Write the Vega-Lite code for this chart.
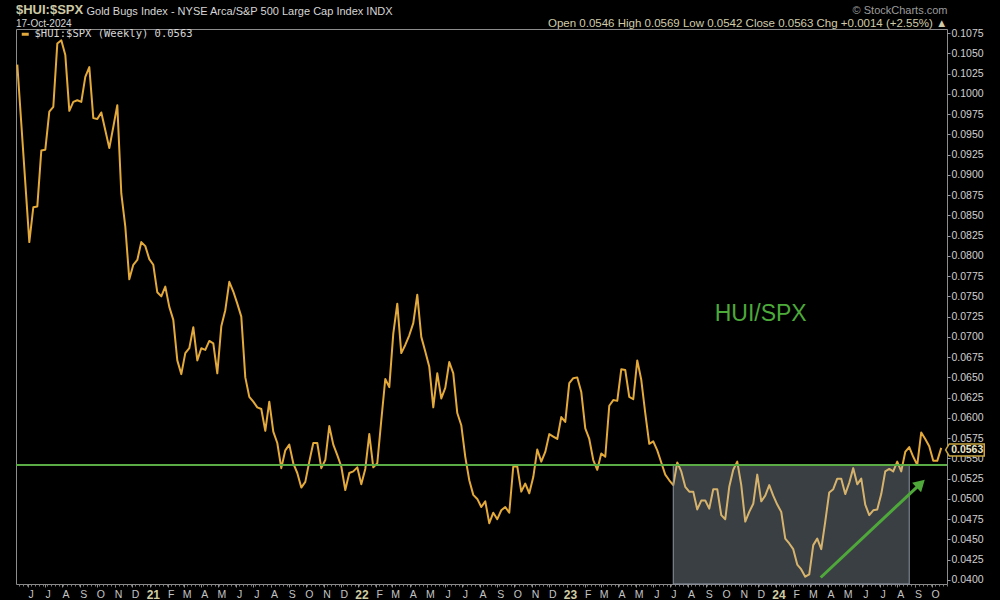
{
  "$schema": "https://vega.github.io/schema/vega-lite/v6.json",
  "width": 931,
  "height": 555,
  "autosize": "none",
  "padding": {"left": 16, "top": 29, "right": 53, "bottom": 16},
  "background": "#000000",
  "config": {
    "font": "Liberation Sans",
    "view": {"stroke": "#8c8c8c", "strokeWidth": 1},
    "axis": {"grid": false}
  },
  "title": {
    "text": "$HUI:$SPX",
    "subtitle": "17-Oct-2024",
    "anchor": "start",
    "frame": "group",
    "offset": 1,
    "dy": 26,
    "font": "Liberation Sans",
    "fontSize": 13,
    "fontWeight": "bold",
    "color": "#cdc9a5",
    "subtitleFont": "Liberation Sans",
    "subtitleFontSize": 10,
    "subtitleColor": "#d6d6d6",
    "subtitlePadding": 2
  },
  "datasets": {
    "ratio": [
      {"d": "2020-05-14", "v": 0.1036}, {"d": "2020-05-21", "v": 0.0963}, {"d": "2020-05-28", "v": 0.0890},
      {"d": "2020-06-04", "v": 0.0817}, {"d": "2020-06-11", "v": 0.0860}, {"d": "2020-06-18", "v": 0.0861},
      {"d": "2020-06-25", "v": 0.0930}, {"d": "2020-07-02", "v": 0.0931}, {"d": "2020-07-09", "v": 0.0978},
      {"d": "2020-07-16", "v": 0.0984}, {"d": "2020-07-23", "v": 0.1062}, {"d": "2020-07-30", "v": 0.1066},
      {"d": "2020-08-06", "v": 0.1048}, {"d": "2020-08-13", "v": 0.0979}, {"d": "2020-08-20", "v": 0.0990},
      {"d": "2020-08-27", "v": 0.0992}, {"d": "2020-09-03", "v": 0.0990}, {"d": "2020-09-10", "v": 0.1021},
      {"d": "2020-09-17", "v": 0.1033}, {"d": "2020-09-24", "v": 0.0970}, {"d": "2020-10-01", "v": 0.0969},
      {"d": "2020-10-08", "v": 0.0977}, {"d": "2020-10-15", "v": 0.0955}, {"d": "2020-10-22", "v": 0.0933},
      {"d": "2020-10-29", "v": 0.0959}, {"d": "2020-11-05", "v": 0.0986}, {"d": "2020-11-12", "v": 0.0877},
      {"d": "2020-11-19", "v": 0.0836}, {"d": "2020-11-26", "v": 0.0771}, {"d": "2020-12-03", "v": 0.0789},
      {"d": "2020-12-10", "v": 0.0795}, {"d": "2020-12-17", "v": 0.0817}, {"d": "2020-12-24", "v": 0.0812},
      {"d": "2020-12-31", "v": 0.0796}, {"d": "2021-01-07", "v": 0.0789}, {"d": "2021-01-14", "v": 0.0755},
      {"d": "2021-01-21", "v": 0.0750}, {"d": "2021-01-28", "v": 0.0762}, {"d": "2021-02-04", "v": 0.0737},
      {"d": "2021-02-11", "v": 0.0721}, {"d": "2021-02-18", "v": 0.0671}, {"d": "2021-02-25", "v": 0.0654},
      {"d": "2021-03-04", "v": 0.0680}, {"d": "2021-03-11", "v": 0.0686}, {"d": "2021-03-18", "v": 0.0712},
      {"d": "2021-03-25", "v": 0.0671}, {"d": "2021-04-01", "v": 0.0686}, {"d": "2021-04-08", "v": 0.0684},
      {"d": "2021-04-15", "v": 0.0695}, {"d": "2021-04-22", "v": 0.0692}, {"d": "2021-04-29", "v": 0.0655},
      {"d": "2021-05-06", "v": 0.0713}, {"d": "2021-05-13", "v": 0.0733}, {"d": "2021-05-20", "v": 0.0768},
      {"d": "2021-05-27", "v": 0.0756}, {"d": "2021-06-03", "v": 0.0741}, {"d": "2021-06-10", "v": 0.0725},
      {"d": "2021-06-17", "v": 0.0650}, {"d": "2021-06-24", "v": 0.0626}, {"d": "2021-07-01", "v": 0.0620},
      {"d": "2021-07-08", "v": 0.0613}, {"d": "2021-07-15", "v": 0.0611}, {"d": "2021-07-22", "v": 0.0584},
      {"d": "2021-07-29", "v": 0.0620}, {"d": "2021-08-05", "v": 0.0583}, {"d": "2021-08-12", "v": 0.0569},
      {"d": "2021-08-19", "v": 0.0538}, {"d": "2021-08-26", "v": 0.0560}, {"d": "2021-09-02", "v": 0.0567},
      {"d": "2021-09-09", "v": 0.0544}, {"d": "2021-09-16", "v": 0.0532}, {"d": "2021-09-23", "v": 0.0514},
      {"d": "2021-09-30", "v": 0.0521}, {"d": "2021-10-07", "v": 0.0546}, {"d": "2021-10-14", "v": 0.0569},
      {"d": "2021-10-21", "v": 0.0569}, {"d": "2021-10-28", "v": 0.0538}, {"d": "2021-11-04", "v": 0.0548},
      {"d": "2021-11-11", "v": 0.0590}, {"d": "2021-11-18", "v": 0.0567}, {"d": "2021-11-25", "v": 0.0554},
      {"d": "2021-12-02", "v": 0.0540}, {"d": "2021-12-09", "v": 0.0511}, {"d": "2021-12-16", "v": 0.0532},
      {"d": "2021-12-23", "v": 0.0534}, {"d": "2021-12-30", "v": 0.0539}, {"d": "2022-01-06", "v": 0.0518},
      {"d": "2022-01-13", "v": 0.0537}, {"d": "2022-01-20", "v": 0.0580}, {"d": "2022-01-27", "v": 0.0539},
      {"d": "2022-02-03", "v": 0.0544}, {"d": "2022-02-10", "v": 0.0597}, {"d": "2022-02-17", "v": 0.0648},
      {"d": "2022-02-24", "v": 0.0638}, {"d": "2022-03-03", "v": 0.0704}, {"d": "2022-03-10", "v": 0.0741},
      {"d": "2022-03-17", "v": 0.0680}, {"d": "2022-03-24", "v": 0.0690}, {"d": "2022-03-31", "v": 0.0702},
      {"d": "2022-04-07", "v": 0.0717}, {"d": "2022-04-14", "v": 0.0752}, {"d": "2022-04-21", "v": 0.0700},
      {"d": "2022-04-28", "v": 0.0682}, {"d": "2022-05-05", "v": 0.0663}, {"d": "2022-05-12", "v": 0.0613},
      {"d": "2022-05-19", "v": 0.0655}, {"d": "2022-05-26", "v": 0.0624}, {"d": "2022-06-02", "v": 0.0637},
      {"d": "2022-06-09", "v": 0.0669}, {"d": "2022-06-16", "v": 0.0655}, {"d": "2022-06-23", "v": 0.0606},
      {"d": "2022-06-30", "v": 0.0591}, {"d": "2022-07-07", "v": 0.0552}, {"d": "2022-07-14", "v": 0.0523},
      {"d": "2022-07-21", "v": 0.0505}, {"d": "2022-07-28", "v": 0.0500}, {"d": "2022-08-04", "v": 0.0490},
      {"d": "2022-08-11", "v": 0.0497}, {"d": "2022-08-18", "v": 0.0470}, {"d": "2022-08-25", "v": 0.0483},
      {"d": "2022-09-01", "v": 0.0475}, {"d": "2022-09-08", "v": 0.0486}, {"d": "2022-09-15", "v": 0.0490},
      {"d": "2022-09-22", "v": 0.0483}, {"d": "2022-09-29", "v": 0.0540}, {"d": "2022-10-06", "v": 0.0540},
      {"d": "2022-10-13", "v": 0.0509}, {"d": "2022-10-20", "v": 0.0519}, {"d": "2022-10-27", "v": 0.0507},
      {"d": "2022-11-03", "v": 0.0527}, {"d": "2022-11-10", "v": 0.0561}, {"d": "2022-11-17", "v": 0.0546},
      {"d": "2022-11-24", "v": 0.0558}, {"d": "2022-12-01", "v": 0.0580}, {"d": "2022-12-08", "v": 0.0577},
      {"d": "2022-12-15", "v": 0.0574}, {"d": "2022-12-22", "v": 0.0601}, {"d": "2022-12-29", "v": 0.0595},
      {"d": "2023-01-05", "v": 0.0643}, {"d": "2023-01-12", "v": 0.0649}, {"d": "2023-01-19", "v": 0.0650},
      {"d": "2023-01-26", "v": 0.0632}, {"d": "2023-02-02", "v": 0.0587}, {"d": "2023-02-09", "v": 0.0574},
      {"d": "2023-02-16", "v": 0.0548}, {"d": "2023-02-23", "v": 0.0536}, {"d": "2023-03-02", "v": 0.0556},
      {"d": "2023-03-09", "v": 0.0552}, {"d": "2023-03-16", "v": 0.0615}, {"d": "2023-03-23", "v": 0.0622},
      {"d": "2023-03-30", "v": 0.0621}, {"d": "2023-04-06", "v": 0.0660}, {"d": "2023-04-13", "v": 0.0659},
      {"d": "2023-04-20", "v": 0.0626}, {"d": "2023-04-27", "v": 0.0623}, {"d": "2023-05-04", "v": 0.0671},
      {"d": "2023-05-11", "v": 0.0647}, {"d": "2023-05-18", "v": 0.0606}, {"d": "2023-05-25", "v": 0.0568},
      {"d": "2023-06-01", "v": 0.0571}, {"d": "2023-06-08", "v": 0.0560}, {"d": "2023-06-15", "v": 0.0545},
      {"d": "2023-06-22", "v": 0.0530}, {"d": "2023-06-29", "v": 0.0523}, {"d": "2023-07-06", "v": 0.0517},
      {"d": "2023-07-13", "v": 0.0545}, {"d": "2023-07-20", "v": 0.0534}, {"d": "2023-07-27", "v": 0.0515},
      {"d": "2023-08-03", "v": 0.0509}, {"d": "2023-08-10", "v": 0.0509}, {"d": "2023-08-17", "v": 0.0487},
      {"d": "2023-08-24", "v": 0.0498}, {"d": "2023-08-31", "v": 0.0498}, {"d": "2023-09-07", "v": 0.0488},
      {"d": "2023-09-14", "v": 0.0512}, {"d": "2023-09-21", "v": 0.0512}, {"d": "2023-09-28", "v": 0.0480},
      {"d": "2023-10-05", "v": 0.0475}, {"d": "2023-10-12", "v": 0.0515}, {"d": "2023-10-19", "v": 0.0536},
      {"d": "2023-10-26", "v": 0.0546}, {"d": "2023-11-02", "v": 0.0517}, {"d": "2023-11-09", "v": 0.0472},
      {"d": "2023-11-16", "v": 0.0484}, {"d": "2023-11-23", "v": 0.0494}, {"d": "2023-11-30", "v": 0.0530},
      {"d": "2023-12-07", "v": 0.0497}, {"d": "2023-12-14", "v": 0.0504}, {"d": "2023-12-21", "v": 0.0517},
      {"d": "2023-12-28", "v": 0.0504}, {"d": "2024-01-04", "v": 0.0493}, {"d": "2024-01-11", "v": 0.0484},
      {"d": "2024-01-18", "v": 0.0451}, {"d": "2024-01-25", "v": 0.0445}, {"d": "2024-02-01", "v": 0.0438},
      {"d": "2024-02-08", "v": 0.0419}, {"d": "2024-02-15", "v": 0.0413}, {"d": "2024-02-22", "v": 0.0404},
      {"d": "2024-02-29", "v": 0.0407}, {"d": "2024-03-07", "v": 0.0443}, {"d": "2024-03-14", "v": 0.0451},
      {"d": "2024-03-21", "v": 0.0438}, {"d": "2024-03-28", "v": 0.0472}, {"d": "2024-04-04", "v": 0.0508},
      {"d": "2024-04-11", "v": 0.0512}, {"d": "2024-04-18", "v": 0.0525}, {"d": "2024-04-25", "v": 0.0525},
      {"d": "2024-05-02", "v": 0.0506}, {"d": "2024-05-09", "v": 0.0520}, {"d": "2024-05-16", "v": 0.0538},
      {"d": "2024-05-23", "v": 0.0518}, {"d": "2024-05-30", "v": 0.0525}, {"d": "2024-06-06", "v": 0.0493},
      {"d": "2024-06-13", "v": 0.0480}, {"d": "2024-06-20", "v": 0.0486}, {"d": "2024-06-27", "v": 0.0487},
      {"d": "2024-07-04", "v": 0.0506}, {"d": "2024-07-11", "v": 0.0534}, {"d": "2024-07-18", "v": 0.0537},
      {"d": "2024-07-25", "v": 0.0534}, {"d": "2024-08-01", "v": 0.0546}, {"d": "2024-08-08", "v": 0.0534},
      {"d": "2024-08-15", "v": 0.0558}, {"d": "2024-08-22", "v": 0.0564}, {"d": "2024-08-29", "v": 0.0552},
      {"d": "2024-09-05", "v": 0.0542}, {"d": "2024-09-12", "v": 0.0582}, {"d": "2024-09-19", "v": 0.0574},
      {"d": "2024-09-26", "v": 0.0565}, {"d": "2024-10-03", "v": 0.0547}, {"d": "2024-10-10", "v": 0.0547},
      {"d": "2024-10-17", "v": 0.0563}
    ],
    "zone": [{"d": "2023-07-06", "d2": "2024-08-22", "v": 0.0542, "v2": 0.0395}],
    "level": [{"v": 0.0542}],
    "arrow": [{"d": "2024-03-20", "v": 0.0403}, {"d": "2024-09-11", "v": 0.0519}],
    "head": [{"d": "2024-09-11", "v": 0.0519}],
    "note": [{"d": "2023-12-06", "v": 0.0720, "t": "HUI/SPX"}],
    "last": [{"d": "2024-10-17", "v": 0.0563, "t": "0.0563"}]
  },
  "resolve": {"axis": {"x": "independent", "y": "independent"}},
  "layer": [
    {
      "data": {"name": "ratio"},
      "mark": {"type": "line", "strokeWidth": 2, "strokeJoin": "round"},
      "encoding": {
        "x": {
          "field": "d", "type": "temporal",
          "scale": {"type": "utc", "domain": [{"year": 2020, "month": 5, "date": 11, "hours": 17, "utc": true}, {"year": 2024, "month": 10, "date": 27, "hours": 2, "utc": true}]},
          "axis": {
            "orient": "bottom", "domain": false, "ticks": true, "tickSize": 3, "tickColor": "#8c8c8c",
            "tickCount": {"interval": "month", "step": 1},
            "labelExpr": "utcmonth(datum.value) == 0 ? utcFormat(datum.value, '%y') : substring(utcFormat(datum.value, '%b'), 0, 1)",
            "labelFontWeight": {"condition": {"test": "utcmonth(datum.value) == 0", "value": "bold"}, "value": "normal"},
            "labelColor": {"condition": {"test": "utcmonth(datum.value) == 0", "value": "#cfcba3"}, "value": "#c4c4c4"},
            "labelFontSize": {"condition": {"test": "utcmonth(datum.value) == 0", "value": 12}, "value": 10.5},
            "labelPadding": 2, "labelOverlap": false, "labelFlush": false, "labelBound": false, "labelOffset": 3,
            "title": "Gold Bugs Index - NYSE Arca/S&P 500 Large Cap Index  INDX",
            "titleX": 70, "titleY": -570, "titleAlign": "left", "titleBaseline": "alphabetic",
            "titleFontSize": 11, "titleFontWeight": "normal", "titleColor": "#d6d6d6", "titleFont": "Liberation Sans"
          }
        },
        "y": {
          "field": "v", "type": "quantitative",
          "scale": {"domain": [0.0395, 0.108], "zero": false, "nice": false},
          "axis": {
            "orient": "right", "domain": false, "zindex": 0,
            "values": [0.04, 0.0425, 0.045, 0.0475, 0.05, 0.0525, 0.055, 0.0575, 0.06, 0.0625, 0.065, 0.0675, 0.07, 0.0725, 0.075, 0.0775, 0.08, 0.0825, 0.085, 0.0875, 0.09, 0.0925, 0.095, 0.0975, 0.1, 0.1025, 0.105, 0.1075],
            "format": ".4f", "tickSize": 3, "tickColor": "#9a9a9a", "labelPadding": 1,
            "labelFontSize": 10.5, "labelColor": "#d0d0d0", "labelFont": "Liberation Sans",
            "labelOverlap": false, "labelFlush": false, "labelBound": false,
            "title": "Open 0.0546  High 0.0569  Low 0.0542  Close 0.0563  Chg +0.0014 (+2.55%) ▲",
            "titleAngle": 0, "titleX": 0, "titleY": -3, "titleAlign": "right", "titleBaseline": "alphabetic",
            "titleFontSize": 11.5, "titleFontWeight": "normal", "titleColor": "#d0ccaa", "titleFont": "Liberation Sans"
          }
        },
        "color": {
          "datum": "$HUI:$SPX (Weekly) 0.0563", "type": "nominal",
          "scale": {"range": ["#e3a93b"]},
          "legend": {
            "orient": "none", "legendX": 4, "legendY": 0, "title": null, "padding": 0,
            "symbolType": "stroke", "symbolStrokeWidth": 3, "symbolSize": 49,
            "labelFont": "DejaVu Sans Mono", "labelFontSize": 10.5, "labelColor": "#d6d6d6", "labelOffset": 4
          }
        }
      }
    },
    {
      "data": {"name": "zone"},
      "mark": {"type": "rect", "fill": "#bccbdc", "fillOpacity": 0.31, "stroke": "#8d96a2", "strokeWidth": 1},
      "encoding": {
        "x": {
          "field": "d", "type": "temporal",
          "scale": {"type": "utc", "domain": [{"year": 2020, "month": 5, "date": 11, "hours": 17, "utc": true}, {"year": 2024, "month": 10, "date": 27, "hours": 2, "utc": true}]},
          "axis": {"orient": "bottom", "labels": false, "domain": false, "ticks": true, "tickSize": 2, "tickColor": "#7a7a7a", "tickCount": {"interval": "week", "step": 1}, "title": null, "zindex": 0}
        },
        "x2": {"field": "d2"},
        "y": {"field": "v", "type": "quantitative", "scale": {"domain": [0.0395, 0.108], "zero": false, "nice": false}, "axis": null},
        "y2": {"field": "v2"}
      }
    },
    {
      "data": {"name": "level"},
      "mark": {"type": "rule", "color": "#5aaa46", "strokeWidth": 2},
      "encoding": {
        "y": {"field": "v", "type": "quantitative", "scale": {"domain": [0.0395, 0.108], "zero": false, "nice": false}, "axis": null}
      }
    },
    {
      "data": {"name": "arrow"},
      "mark": {"type": "line", "color": "#4fa83a", "strokeWidth": 3},
      "encoding": {
        "x": {
          "field": "d", "type": "temporal",
          "scale": {"type": "utc", "domain": [{"year": 2020, "month": 5, "date": 11, "hours": 17, "utc": true}, {"year": 2024, "month": 10, "date": 27, "hours": 2, "utc": true}]},
          "axis": {"orient": "top", "labels": false, "ticks": false, "domain": false,
            "title": "© StockCharts.com", "titleX": 931, "titleY": -16, "titleAlign": "right", "titleBaseline": "alphabetic",
            "titleFontSize": 11, "titleFontWeight": "normal", "titleColor": "#9c9c9c", "titleFont": "Liberation Sans"}
        },
        "y": {"field": "v", "type": "quantitative", "scale": {"domain": [0.0395, 0.108], "zero": false, "nice": false}, "axis": null}
      }
    },
    {
      "data": {"name": "head"},
      "mark": {"type": "point", "shape": "triangle-up", "filled": true, "color": "#4fa83a", "size": 170, "angle": 46.5, "opacity": 1},
      "encoding": {
        "x": {"field": "d", "type": "temporal", "scale": {"type": "utc", "domain": [{"year": 2020, "month": 5, "date": 11, "hours": 17, "utc": true}, {"year": 2024, "month": 10, "date": 27, "hours": 2, "utc": true}]}, "axis": null},
        "y": {"field": "v", "type": "quantitative", "scale": {"domain": [0.0395, 0.108], "zero": false, "nice": false}, "axis": null}
      }
    },
    {
      "data": {"name": "note"},
      "mark": {"type": "text", "color": "#4caa3a", "fontSize": 23, "font": "Liberation Sans", "align": "center", "baseline": "alphabetic"},
      "encoding": {
        "x": {"field": "d", "type": "temporal", "scale": {"type": "utc", "domain": [{"year": 2020, "month": 5, "date": 11, "hours": 17, "utc": true}, {"year": 2024, "month": 10, "date": 27, "hours": 2, "utc": true}]}, "axis": null},
        "y": {"field": "v", "type": "quantitative", "scale": {"domain": [0.0395, 0.108], "zero": false, "nice": false}, "axis": null},
        "text": {"field": "t"}
      }
    },
    {
      "data": {"name": "last"},
      "mark": {"type": "point", "shape": "M0.44,0.2L0.8,-0.4L4.3,-0.4L4.3,0.8L0.8,0.8Z", "size": 400, "filled": true, "fill": "#000000", "stroke": "#c9a640", "strokeWidth": 1.5, "opacity": 1, "clip": false},
      "encoding": {
        "x": {"field": "d", "type": "temporal", "scale": {"type": "utc", "domain": [{"year": 2020, "month": 5, "date": 11, "hours": 17, "utc": true}, {"year": 2024, "month": 10, "date": 27, "hours": 2, "utc": true}]}, "axis": null},
        "y": {"field": "v", "type": "quantitative", "scale": {"domain": [0.0395, 0.108], "zero": false, "nice": false}, "axis": null}
      }
    },
    {
      "data": {"name": "last"},
      "mark": {"type": "text", "dx": 26, "dy": 2, "fontSize": 10.5, "fontWeight": "bold", "color": "#ece6c8", "align": "center", "baseline": "middle", "font": "Liberation Sans", "clip": false},
      "encoding": {
        "x": {"field": "d", "type": "temporal", "scale": {"type": "utc", "domain": [{"year": 2020, "month": 5, "date": 11, "hours": 17, "utc": true}, {"year": 2024, "month": 10, "date": 27, "hours": 2, "utc": true}]}, "axis": null},
        "y": {"field": "v", "type": "quantitative", "scale": {"domain": [0.0395, 0.108], "zero": false, "nice": false}, "axis": null},
        "text": {"field": "t"}
      }
    }
  ]
}
